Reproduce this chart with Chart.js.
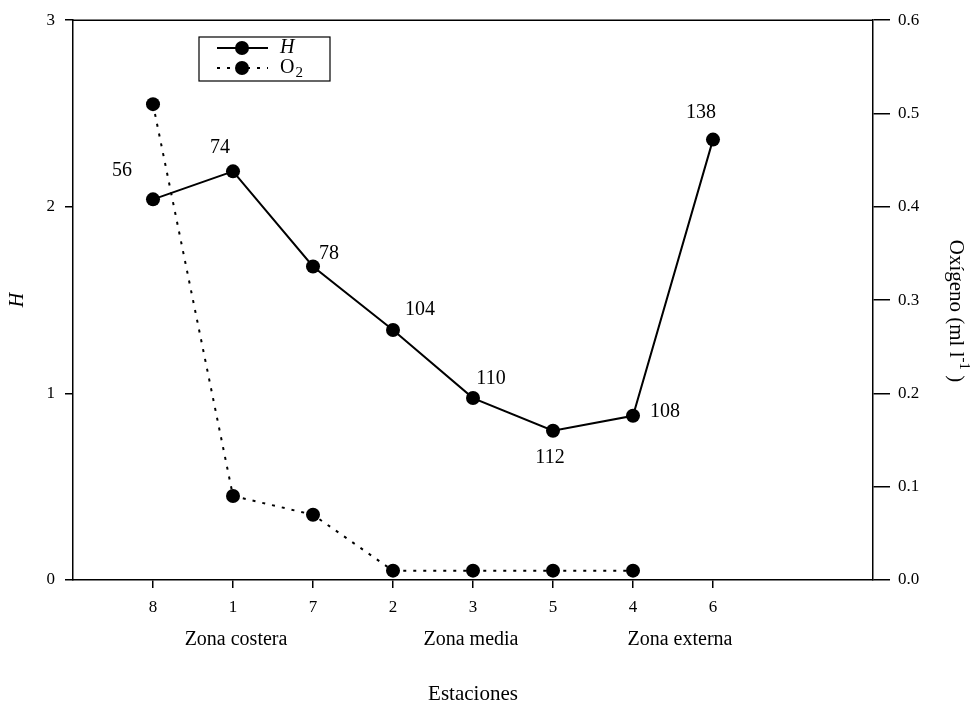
<!DOCTYPE html>
<html>
<head>
<meta charset="utf-8">
<script src="https://cdn.jsdelivr.net/npm/chart.js@4/dist/chart.umd.min.js"></script>
<style>
  html, body { margin: 0; padding: 0; background: #fff; }
  #wrap { width: 971px; height: 706px; }
</style>
</head>
<body>
<div id="wrap"><canvas id="c" width="971" height="706"></canvas></div>
<script>
// ---- data ----
const stations = ['8', '1', '7', '2', '3', '5', '4', '6'];
const hValues = [2.04, 2.19, 1.68, 1.34, 0.975, 0.80, 0.88, 2.36];
const o2Values = [0.51, 0.09, 0.07, 0.01, 0.01, 0.01, 0.01, null];
const hPointLabels = ['56', '74', '78', '104', '110', '112', '108', '138'];
const zoneNames = ['Zona costera', 'Zona media', 'Zona externa'];
const zoneFirst = [0, 3, 6];
const zoneLast = [2, 5, 7];
const leftTicks = [0, 1, 2, 3];
const rightTicks = [0.0, 0.1, 0.2, 0.3, 0.4, 0.5, 0.6];

// ---- styling (offsets in px) ----
const labelOffsets = [[-31, -29], [-13, -24], [16, -13], [27, -20], [18, -19], [-3, 27], [32, -4], [-12, -27]];
const zoneNudge = [3, -2, 7];
const FONT = 'Liberation Serif';

const toXY = (vals) => vals.map((v, i) => ({ x: i, y: v }));

const topBorder = {
  id: 'topBorder',
  afterDraw(chart) {
    const { ctx, chartArea } = chart;
    ctx.save();
    ctx.strokeStyle = '#000';
    ctx.lineWidth = 1.5;
    ctx.beginPath();
    ctx.moveTo(chartArea.left, chartArea.top);
    ctx.lineTo(chartArea.right, chartArea.top);
    ctx.stroke();
    ctx.restore();
  }
};

const pointLabels = {
  id: 'pointLabels',
  afterDatasetsDraw(chart) {
    const { ctx } = chart;
    const meta = chart.getDatasetMeta(0);
    ctx.save();
    ctx.fillStyle = '#000';
    ctx.font = '20px "' + FONT + '"';
    ctx.textAlign = 'center';
    ctx.textBaseline = 'middle';
    meta.data.forEach((pt, i) => {
      const [dx, dy] = labelOffsets[i];
      ctx.fillText(hPointLabels[i], pt.x + dx, pt.y + dy);
    });
    ctx.restore();
  }
};

const zoneLabels = {
  id: 'zoneLabels',
  afterDraw(chart) {
    const { ctx } = chart;
    const xs = chart.scales.x;
    ctx.save();
    ctx.fillStyle = '#000';
    ctx.font = '20px "' + FONT + '"';
    ctx.textAlign = 'center';
    ctx.textBaseline = 'middle';
    zoneNames.forEach((name, i) => {
      const cx = xs.getPixelForValue((zoneFirst[i] + zoneLast[i]) / 2) + zoneNudge[i];
      ctx.fillText(name, cx, 640);
    });
    ctx.restore();
  }
};

const rightTitle = {
  id: 'rightTitle',
  afterDraw(chart) {
    const { ctx } = chart;
    const parts = [
      { t: 'Oxígeno (ml l', size: 21, dy: 0 },
      { t: '-1', size: 15, dy: -8 },
      { t: ' )', size: 21, dy: 0 }
    ];
    ctx.save();
    ctx.fillStyle = '#000';
    let total = 0;
    parts.forEach((p) => { ctx.font = p.size + 'px "' + FONT + '"'; p.w = ctx.measureText(p.t).width; total += p.w; });
    ctx.translate(956, 311);
    ctx.rotate(Math.PI / 2);
    ctx.textBaseline = 'middle';
    ctx.textAlign = 'left';
    let x = -total / 2;
    parts.forEach((p) => {
      ctx.font = p.size + 'px "' + FONT + '"';
      ctx.fillText(p.t, x, p.dy);
      x += p.w;
    });
    ctx.restore();
  }
};

const customLegend = {
  id: 'customLegend',
  afterDraw(chart) {
    const { ctx } = chart;
    const bx = 199, by = 37, bw = 131, bh = 44;
    ctx.save();
    ctx.strokeStyle = '#000';
    ctx.fillStyle = '#000';
    ctx.lineWidth = 1.2;
    ctx.strokeRect(bx, by, bw, bh);
    const rows = [48, 68];
    const x0 = 217, x1 = 268, xm = 242;
    ctx.lineWidth = 2;
    ctx.setLineDash([]);
    ctx.beginPath(); ctx.moveTo(x0, rows[0]); ctx.lineTo(x1, rows[0]); ctx.stroke();
    ctx.beginPath(); ctx.arc(xm, rows[0], 7, 0, Math.PI * 2); ctx.fill();
    ctx.setLineDash([3, 7]);
    ctx.beginPath(); ctx.moveTo(x0, rows[1]); ctx.lineTo(x1, rows[1]); ctx.stroke();
    ctx.setLineDash([]);
    ctx.beginPath(); ctx.arc(xm, rows[1], 7, 0, Math.PI * 2); ctx.fill();
    ctx.textBaseline = 'middle';
    ctx.textAlign = 'left';
    ctx.font = 'italic 20px "' + FONT + '"';
    ctx.fillText(chart.data.datasets[0].label, 280, rows[0]);
    ctx.font = '20px "' + FONT + '"';
    ctx.fillText('O', 280, rows[1]);
    const ow = ctx.measureText('O').width;
    ctx.font = '15px "' + FONT + '"';
    ctx.fillText('2', 280 + ow + 1, rows[1] + 5);
    ctx.restore();
  }
};

new Chart(document.getElementById('c'), {
  type: 'line',
  data: {
    datasets: [
      {
        label: 'H',
        data: toXY(hValues),
        yAxisID: 'y',
        borderColor: '#000',
        backgroundColor: '#000',
        borderWidth: 2,
        pointRadius: 7,
        pointBorderWidth: 0,
        pointBackgroundColor: '#000',
        tension: 0
      },
      {
        label: 'O2',
        data: toXY(o2Values),
        yAxisID: 'y2',
        borderColor: '#000',
        backgroundColor: '#000',
        borderWidth: 2,
        borderDash: [3, 7],
        pointRadius: 7,
        pointBorderWidth: 0,
        pointBackgroundColor: '#000',
        tension: 0,
        spanGaps: false
      }
    ]
  },
  options: {
    responsive: false,
    animation: false,
    devicePixelRatio: 1,
    layout: { padding: { top: 20, left: 0, right: 0, bottom: 0 } },
    plugins: { legend: { display: false }, tooltip: { enabled: false } },
    scales: {
      x: {
        type: 'linear',
        min: -1,
        max: 9,
        afterBuildTicks: (s) => { s.ticks = stations.map((_, i) => ({ value: i })); },
        afterFit: (s) => { s.height = 126; },
        ticks: {
          callback: (v) => stations[v],
          autoSkip: false,
          maxRotation: 0,
          color: '#000',
          padding: 9,
          font: { family: FONT, size: 17 }
        },
        grid: { display: true, drawOnChartArea: false, drawTicks: true, tickLength: 8, color: '#000', lineWidth: 1.5 },
        border: { display: true, color: '#000', width: 1.5 },
        title: { display: true, text: 'Estaciones', color: '#000', padding: 0, font: { family: FONT, size: 21, lineHeight: 1.1 } }
      },
      y: {
        position: 'left',
        min: 0,
        max: 3,
        afterBuildTicks: (s) => { s.ticks = leftTicks.map((v) => ({ value: v })); },
        afterFit: (s) => { s.width = 73; },
        ticks: { color: '#000', padding: 10, font: { family: FONT, size: 17 }, callback: (v) => String(v) },
        grid: { display: true, drawOnChartArea: false, drawTicks: true, tickLength: 8, color: '#000', lineWidth: 1.5 },
        border: { display: true, color: '#000', width: 1.5 },
        title: { display: true, text: 'H', color: '#000', padding: 6, font: { family: FONT, size: 20, style: 'italic', lineHeight: 1.2 } }
      },
      y2: {
        position: 'right',
        min: 0,
        max: 0.6,
        afterBuildTicks: (s) => { s.ticks = rightTicks.map((v) => ({ value: v })); },
        afterFit: (s) => { s.width = 98; },
        ticks: { color: '#000', padding: 8, font: { family: FONT, size: 17 }, callback: (v) => Number(v).toFixed(1) },
        grid: { display: true, drawOnChartArea: false, drawTicks: true, tickLength: 17, color: '#000', lineWidth: 1.5 },
        border: { display: true, color: '#000', width: 1.5 },
        title: { display: false }
      }
    }
  },
  plugins: [topBorder, pointLabels, zoneLabels, rightTitle, customLegend]
});
</script>
</body>
</html>
